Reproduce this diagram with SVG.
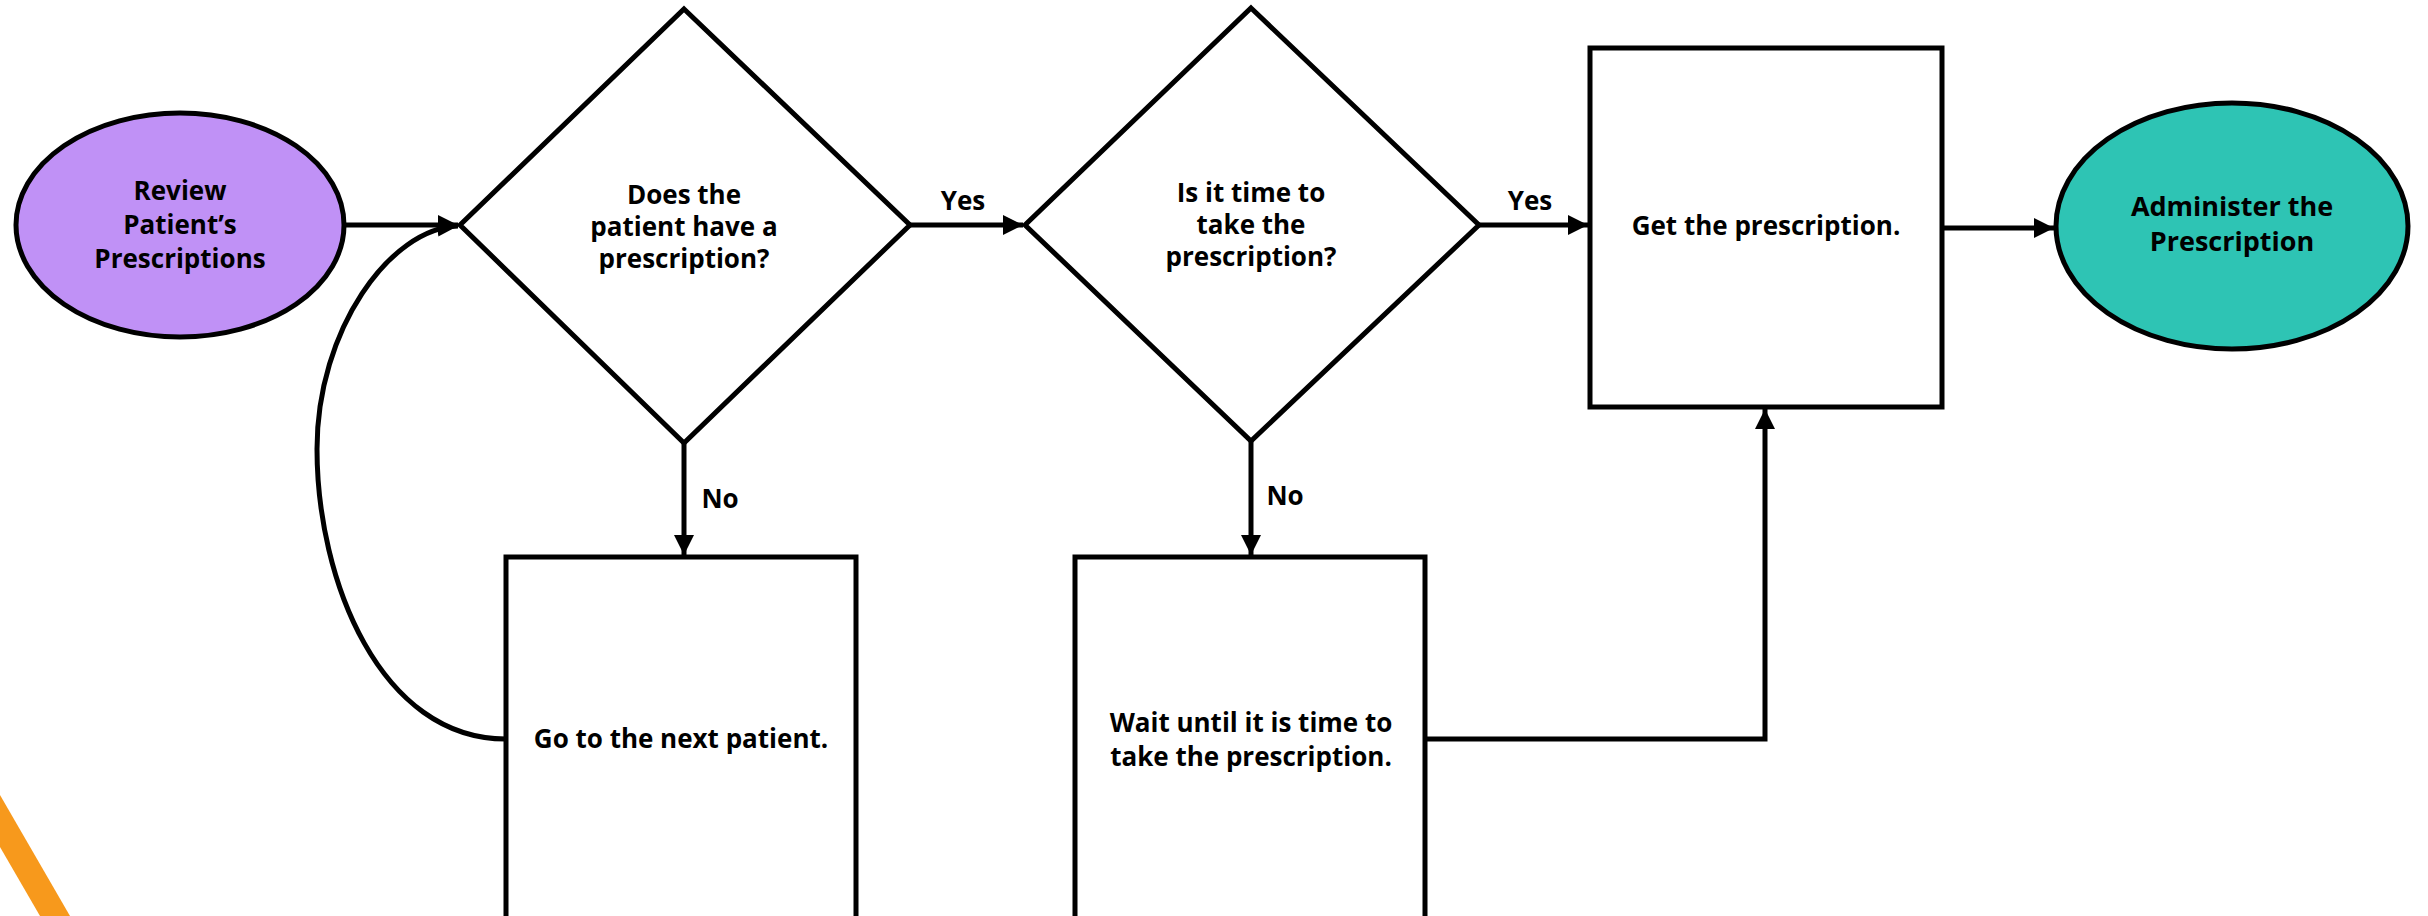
<svg xmlns="http://www.w3.org/2000/svg" width="2428" height="916" viewBox="0 0 2428 916">
<defs>
<style>
.node{stroke:#000;stroke-width:5;}
.box{fill:#fff;stroke:#000;stroke-width:5;}
.t{font-family:"Open Sans","Liberation Sans",sans-serif;font-weight:700;font-size:26px;fill:#000;text-anchor:middle;}
.conn{fill:none;stroke:#000;stroke-width:5;}
</style>
<marker id="ah" markerUnits="userSpaceOnUse" markerWidth="24" markerHeight="20" refX="20" refY="10" orient="auto">
<path d="M0,0 L20,10 L0,20 z" fill="#000"/>
</marker>
</defs>
<rect width="2428" height="916" fill="#fff"/>
<polygon points="0,795 70,916 40,916 0,847" fill="#F7991C"/>

<g id="connectors">
<line class="conn" x1="345" y1="225" x2="458" y2="225" marker-end="url(#ah)"/>
<line class="conn" x1="910" y1="225" x2="1023" y2="225" marker-end="url(#ah)"/>
<line class="conn" x1="1479" y1="225" x2="1588" y2="225" marker-end="url(#ah)"/>
<line class="conn" x1="1942" y1="228" x2="2054" y2="228" marker-end="url(#ah)"/>
<line class="conn" x1="684" y1="443" x2="684" y2="555" marker-end="url(#ah)"/>
<line class="conn" x1="1251" y1="441" x2="1251" y2="555" marker-end="url(#ah)"/>
<polyline class="conn" points="1425,739 1765,739 1765,409" marker-end="url(#ah)"/>
<path class="conn" d="M506,739 C380,739 317,580 317,449 C317,330 390,228 458,226" marker-end="url(#ah)"/>
<text class="t" x="963" y="210">Yes</text>
<text class="t" x="1530" y="210">Yes</text>
<text class="t" x="720" y="508">No</text>
<text class="t" x="1285" y="505">No</text>
</g>

<g id="start">
<ellipse class="node" cx="180" cy="225" rx="164" ry="112" fill="#C091F6"/>
<text class="t" x="180" y="200">Review</text>
<text class="t" x="180" y="234">Patient’s</text>
<text class="t" x="180" y="268">Prescriptions</text>
</g>

<g id="decision1">
<polygon class="box" points="684,9 910,225 684,443 460,225"/>
<text class="t" x="684" y="204">Does the</text>
<text class="t" x="684" y="236">patient have a</text>
<text class="t" x="684" y="268">prescription?</text>
</g>

<g id="decision2">
<polygon class="box" points="1251,8 1479,225 1251,441 1025,225"/>
<text class="t" x="1251" y="202">Is it time to</text>
<text class="t" x="1251" y="234">take the</text>
<text class="t" x="1251" y="266">prescription?</text>
</g>

<g id="get">
<rect class="box" x="1590" y="48" width="352" height="359"/>
<text class="t" x="1766" y="235">Get the prescription.</text>
</g>

<g id="administer">
<ellipse class="node" cx="2232" cy="226" rx="176" ry="123" fill="#2EC4B4"/>
<text class="t" x="2232" y="216" style="font-size:27px">Administer the</text>
<text class="t" x="2232" y="251" style="font-size:27px">Prescription</text>
</g>

<g id="next">
<rect class="box" x="506" y="557" width="350" height="380"/>
<text class="t" x="681" y="748">Go to the next patient.</text>
</g>

<g id="wait">
<rect class="box" x="1075" y="557" width="350" height="380"/>
<text class="t" x="1251" y="732">Wait until it is time to</text>
<text class="t" x="1251" y="766">take the prescription.</text>
</g>
</svg>
